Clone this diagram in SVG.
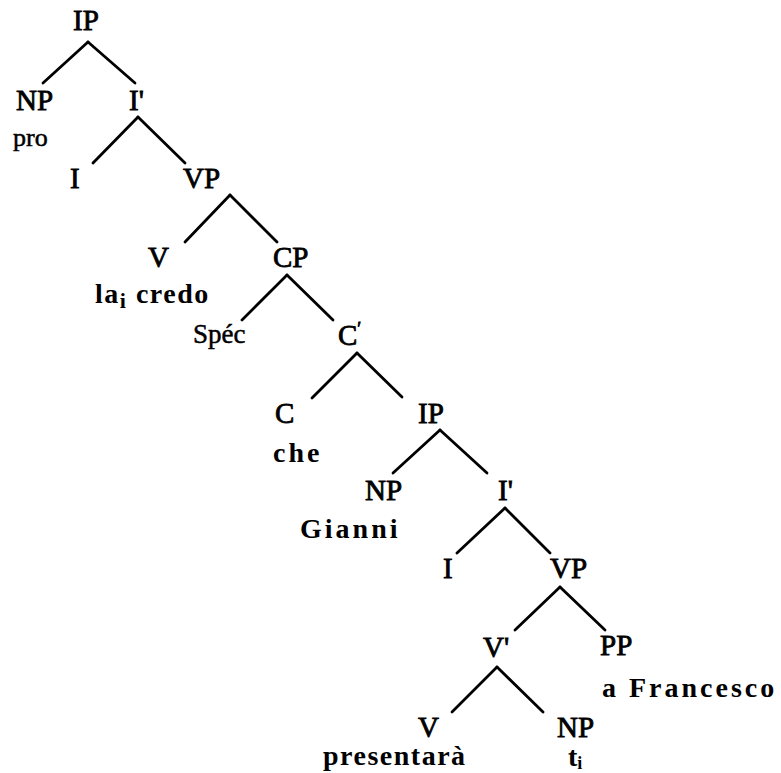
<svg xmlns="http://www.w3.org/2000/svg" width="781" height="773" viewBox="0 0 781 773">
<style>
.l{font-family:"Liberation Serif","Times New Roman",serif;font-size:29px;fill:#000;stroke:#000;stroke-width:0.8}
.w{font-family:"Liberation Serif","Times New Roman",serif;font-size:28px;font-weight:bold;fill:#000}
.e line{stroke:#000;stroke-width:2.8;stroke-linecap:round}
</style>
<rect width="781" height="773" fill="#fff"/>
<g class="e" id="connectors">
<line x1="88" y1="42" x2="43" y2="83"/>
<line x1="88" y1="42" x2="135" y2="83"/>
<line x1="138" y1="117" x2="93" y2="163"/>
<line x1="138" y1="117" x2="185" y2="163"/>
<line x1="230" y1="195" x2="185" y2="242"/>
<line x1="230" y1="195" x2="277" y2="242"/>
<line x1="287" y1="275" x2="242" y2="320"/>
<line x1="287" y1="275" x2="333" y2="320"/>
<line x1="357" y1="353" x2="312" y2="398"/>
<line x1="357" y1="353" x2="402" y2="397"/>
<line x1="440" y1="430" x2="393" y2="473"/>
<line x1="440" y1="430" x2="487" y2="473"/>
<line x1="505" y1="508" x2="457" y2="553"/>
<line x1="505" y1="508" x2="550" y2="553"/>
<line x1="560" y1="587" x2="515" y2="630"/>
<line x1="560" y1="587" x2="605" y2="630"/>
<line x1="497" y1="667" x2="452" y2="712"/>
<line x1="497" y1="667" x2="543" y2="712"/>
</g>
<g id="ip1"><text class="l" x="73" y="30">IP</text></g>
<g id="np1"><text class="l" x="16" y="110">NP</text><text class="l" x="13" y="146" style="font-size:26px;stroke-width:0.5">pro</text></g>
<g id="ibar1"><text class="l" x="129" y="110">I'</text></g>
<g id="i1"><text class="l" x="70" y="188">I</text></g>
<g id="vp1"><text class="l" x="183" y="188">VP</text></g>
<g id="v1"><text class="l" x="148" y="267">V</text><text class="w" x="95" y="303" letter-spacing="1.5">la<tspan dy="5" font-size="22">i</tspan><tspan dy="-5"> credo</tspan></text></g>
<g id="cp"><text class="l" x="273" y="267">CP</text></g>
<g id="spec"><text class="l" x="193" y="343" style="font-size:27px;stroke-width:0.5">Spéc</text></g>
<g id="cbar"><text class="l" x="338" y="345">C<tspan font-size="18" dy="-10">′</tspan></text></g>
<g id="c"><text class="l" x="275" y="423">C</text><text class="w" x="273" y="462" letter-spacing="3">che</text></g>
<g id="ip2"><text class="l" x="418" y="423">IP</text></g>
<g id="np2"><text class="l" x="365" y="500">NP</text><text class="w" x="300" y="538" letter-spacing="3">Gianni</text></g>
<g id="ibar2"><text class="l" x="498" y="500">I'</text></g>
<g id="i2"><text class="l" x="443" y="578">I</text></g>
<g id="vp2"><text class="l" x="550" y="578">VP</text></g>
<g id="vbar"><text class="l" x="483" y="657">V'</text></g>
<g id="pp"><text class="l" x="600" y="655">PP</text><text class="w" x="602" y="697" letter-spacing="3">a  Francesco</text></g>
<g id="v2"><text class="l" x="418" y="737">V</text><text class="w" x="323" y="765" letter-spacing="1.5">presentarà</text></g>
<g id="np3"><text class="l" x="557" y="737">NP</text><text class="w" x="568" y="766" font-size="24">t<tspan dy="3" font-size="18">i</tspan></text></g>
</svg>
